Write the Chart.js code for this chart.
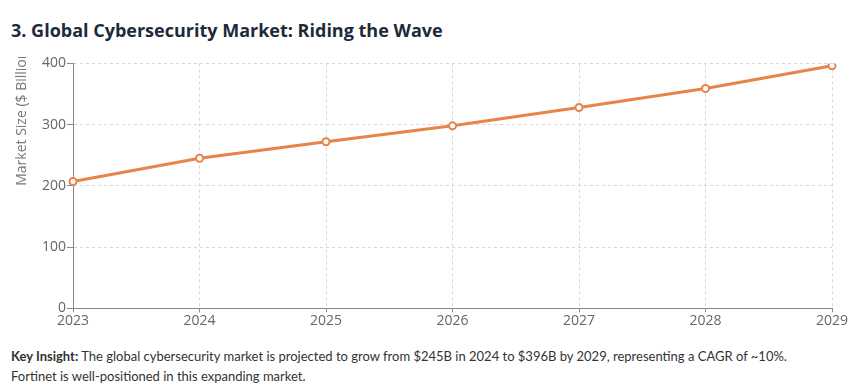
<!DOCTYPE html>
<html>
<head>
<meta charset="utf-8">
<script src="https://cdn.jsdelivr.net/npm/chart.js@4.4.0/dist/chart.umd.min.js"></script>
<style>
  body { margin: 0; background: #fff; font-family: "Open Sans", sans-serif; width: 850px; height: 390px; overflow: hidden; position: relative; }
  h3 { position: absolute; left: 11px; top: 18px; margin: 0; font-size: 18px; font-weight: 700; color: #1c2a39; }
  #clip { position: absolute; left: 0; top: 57px; width: 850px; height: 280px; overflow: hidden; }
  #wrap { position: relative; top: -3px; width: 850px; height: 275px; }
  p { position: absolute; left: 11px; top: 346px; margin: 0; width: 820px; font-family: Lato, sans-serif; font-size: 13px; line-height: 20px; color: #333; }
</style>
</head>
<body>
<h3>3. Global Cybersecurity Market: Riding the Wave</h3>
<div id="clip"><div id="wrap"><canvas id="marketChart"></canvas></div></div>
<p><b>Key Insight:</b> The global cybersecurity market is projected to grow from $245B in 2024 to $396B by 2029, representing a CAGR of ~10%. Fortinet is well-positioned in this expanding market.</p>
<script>
const years = ['2023', '2024', '2025', '2026', '2027', '2028', '2029'];
const marketSize = [207, 245, 272, 298, 328, 359, 396];
const yTicks = [0, 100, 200, 300, 400];
const yTitle = 'Market Size ($ Billions)';

// y title drawn from the middle of the axis upwards, clipped at the top like the original
const yTitlePlugin = {
  id: 'yTitle',
  afterDraw(chart) {
    const ctx = chart.ctx;
    const area = chart.chartArea;
    ctx.save();
    ctx.translate(22, (area.top + area.bottom) / 2);
    ctx.rotate(-Math.PI / 2);
    ctx.font = '14px "Open Sans"';
    ctx.fillStyle = '#777';
    ctx.textAlign = 'left';
    ctx.textBaseline = 'middle';
    ctx.fillText(yTitle, 0, 0);
    ctx.restore();
  }
};

const ctx = document.getElementById('marketChart').getContext('2d');
const marketChart = new Chart(ctx, {
  type: 'line',
  data: {
    labels: years,
    datasets: [{
      label: 'Market Size',
      data: marketSize,
      borderColor: '#e8834a',
      backgroundColor: '#ffffff',
      borderWidth: 3,
      pointRadius: 3.5,
      pointBorderWidth: 2,
      pointBackgroundColor: '#ffffff',
      pointBorderColor: '#e8834a',
      tension: 0,
    }],
  },
  options: {
    responsive: true,
    maintainAspectRatio: false,
    animation: false,
    layout: { padding: { left: 41, right: 18, top: 0, bottom: 0 } },
    plugins: {
      legend: { display: false },
      tooltip: { enabled: false },
    },
    scales: {
      x: {
        grid: { color: '#d6d6d6', tickLength: 4, tickColor: '#888' },
        border: { color: '#888', dash: [3, 3] },
        ticks: { color: '#666', font: { family: 'Open Sans', size: 14 }, padding: 0, maxRotation: 0 },
      },
      y: {
        min: 0,
        max: 400,
        afterBuildTicks(scale) { scale.ticks = yTicks.map(v => ({ value: v })); },
        grid: { color: '#d6d6d6', tickLength: 6, tickColor: '#888' },
        border: { color: '#888', dash: [3, 3] },
        ticks: { color: '#666', font: { family: 'Open Sans', size: 14 }, padding: 1 },
      },
    },
  },
  plugins: [yTitlePlugin],
});
</script>
</body>
</html>
